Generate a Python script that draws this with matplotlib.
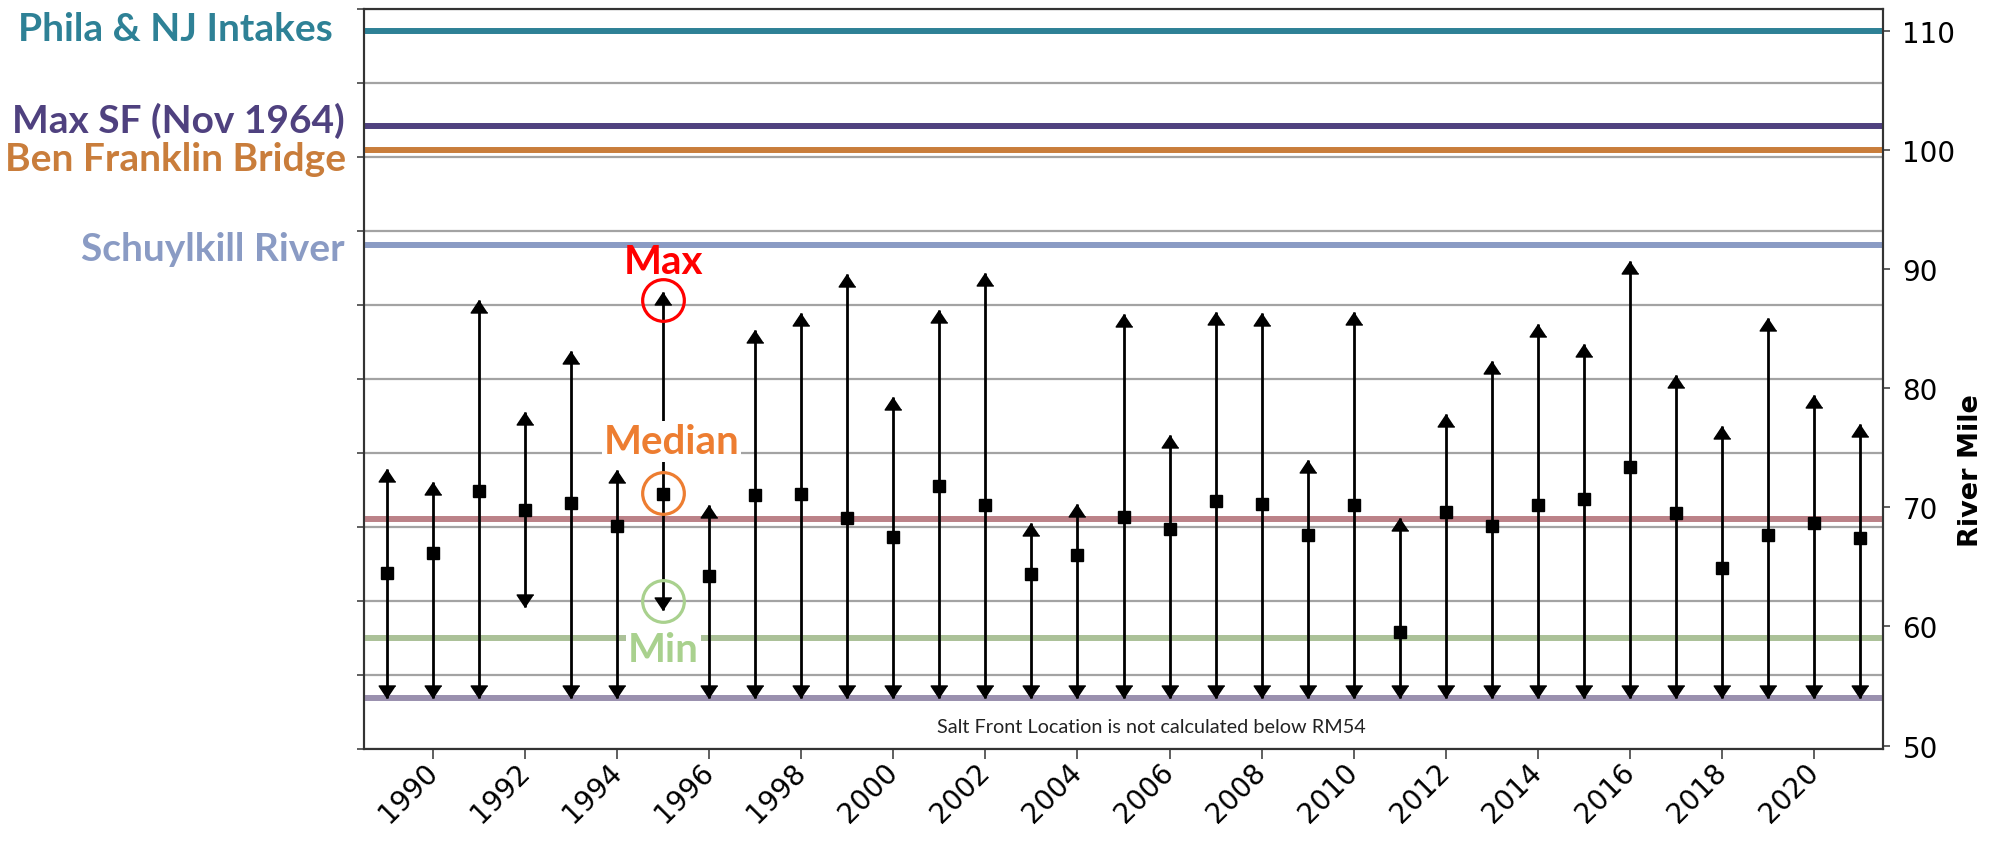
import matplotlib
matplotlib.use("Agg")
import matplotlib.pyplot as plt

# =====================================================
# データ (River Mile)
# =====================================================
years = list(range(1989, 2022))
sf_max = [73.2, 72.1, 87.4, 78.0, 83.1, 73.1, 88.1, 70.2, 84.9, 86.3,
          89.6, 79.3, 86.6, 89.7, 68.7, 70.3, 86.2, 76.1, 86.4, 86.3,
          74.0, 86.4, 69.1, 77.8, 82.3, 85.4, 83.7, 90.7, 81.1, 76.8,
          85.9, 79.4, 77.0]
sf_median = [64.5, 66.2, 71.4, 69.8, 70.4, 68.4, 71.1, 64.2, 71.0, 71.1,
             69.1, 67.5, 71.8, 70.2, 64.4, 66.0, 69.2, 68.2, 70.5, 70.3,
             67.7, 70.2, 59.5, 69.6, 68.4, 70.2, 70.7, 73.4, 69.5, 64.9,
             67.7, 68.7, 67.4]
sf_min = [54, 54, 54, 61.6, 54, 54, 61.4, 54, 54, 54,
          54, 54, 54, 54, 54, 54, 54, 54, 54, 54,
          54, 54, 54, 54, 54, 54, 54, 54, 54, 54,
          54, 54, 54]

# 目印ライン (ラベル付き)
ref_names = ["Phila & NJ Intakes", "Max SF (Nov 1964)",
             "Ben Franklin Bridge", "Schuylkill River"]
ref_rm = [110, 102, 100, 92]
ref_label_y = [109.25, 101.5, 98.3, 90.8]
ref_label_x = [-0.0205, -0.0125, -0.0115, -0.0125]   # 右端位置(軸座標)
ref_colors = ["#2e8196", "#4f417f", "#c97d3b", "#8a9bc4"]

# ラベルなしライン
band_rm = [69, 59, 54]
band_colors = ["#bb8288", "#abc198", "#9a90ae"]

KM_PER_MI = 1.609344
W, H = 1992, 845
CAL = "Lato"   # Calibri の代わり

fig = plt.figure(figsize=(W / 100, H / 100), dpi=100)
ax_km = fig.add_axes([364 / W, 95 / H, 1519 / W, 740 / H])
ax = ax_km.twinx()

# 左軸 (km) : グリッドのみ
ax_km.set_xlim(1988.5, 2021.5)
ax_km.set_ylim(80, 180)
ax_km.set_yticks(range(80, 181, 10))
ax_km.tick_params(axis="y", labelleft=False, length=5, width=1.2, color="#444444")
ax_km.grid(axis="y", color="#a3a3a3", lw=1.6)
ax_km.set_axisbelow(True)

# 右軸 (mile)
ax.set_ylim(80 / KM_PER_MI, 180 / KM_PER_MI)
ax.set_yticks(range(50, 111, 10))
ax.tick_params(axis="y", labelsize=20, pad=9, length=5, width=1.2, color="#444444")

# x軸
ax_km.set_xticks(range(1990, 2021, 2))
ax_km.tick_params(axis="x", length=7, width=1.2, color="#444444", pad=6)
for lab in ax_km.set_xticklabels([str(y) for y in range(1990, 2021, 2)]):
    lab.set_fontsize(20)
    lab.set_rotation(45)
    lab.set_ha("right")
    lab.set_va("center")
    lab.set_rotation_mode("anchor")

for a in (ax_km, ax):
    for s in a.spines.values():
        s.set_linewidth(1.5)
        s.set_color("#333333")

# 横ライン
for rm, c in zip(ref_rm, ref_colors):
    ax.axhline(rm, color=c, lw=4.3, zorder=1)
for rm, c in zip(band_rm, band_colors):
    ax.axhline(rm, color=c, lw=4.3, zorder=1)

# ラベル (軸の左側)
ytrans = ax.get_yaxis_transform()
for name, x, y, c in zip(ref_names, ref_label_x, ref_label_y, ref_colors):
    ax.text(x, y, name, transform=ytrans, ha="right", va="baseline",
            color=c, fontsize=28, fontweight="bold", family=CAL)

# 最大・最小の矢印と中央値
up_arrow = [(0, 0), (-1, -1.5), (1, -1.5)]
down_arrow = [(0, 0), (-1, 1.5), (1, 1.5)]
ax.vlines(years, sf_min, sf_max, color="black", lw=2, zorder=3)
ax.plot(years, sf_max, ls="none", marker=up_arrow, ms=18, color="black",
        mew=1, zorder=4)
ax.plot(years, sf_min, ls="none", marker=down_arrow, ms=18, color="black",
        mew=1, zorder=4)
ax.plot(years, sf_median, ls="none", marker="s", ms=8.5, color="black", zorder=4)

# 凡例代わりの丸印 (1995年)
ax.plot(1995, 87.45, "o", ms=30, mfc="none", mec="#ff0000", mew=2.3, zorder=5)
ax.plot(1995, 71.2, "o", ms=30, mfc="none", mec="#ed7d31", mew=2.3, zorder=5)
ax.plot(1995, 62.1, "o", ms=30, mfc="none", mec="#a9d18e", mew=2.3, zorder=5)

ax.text(1995, 89.7, "Max", color="#ff0000", ha="center", va="baseline",
        fontsize=29, fontweight="bold", family=CAL, zorder=6)
ax.text(1995.18, 74.6, "Median", color="#ed7d31", ha="center", va="baseline",
        fontsize=29, fontweight="bold", family=CAL, zorder=6,
        bbox=dict(boxstyle="square,pad=0.05", fc="white", ec="none"))
ax.text(1995, 57.07, "Min", color="#a9d18e", ha="center", va="baseline",
        fontsize=29, fontweight="bold", family=CAL, zorder=6,
        bbox=dict(boxstyle="square,pad=0.05", fc="white", ec="none"))

ax.text(2005.6, 51.1, "Salt Front Location is not calculated below RM54",
        ha="center", va="baseline", fontsize=14.3, color="#222222", family=CAL)

fig.text(1971 / W, 1 - 471 / H, "River Mile", rotation=90, ha="center",
         va="center", fontsize=19.5, fontweight="bold")

fig.savefig("out.png", dpi=100)
